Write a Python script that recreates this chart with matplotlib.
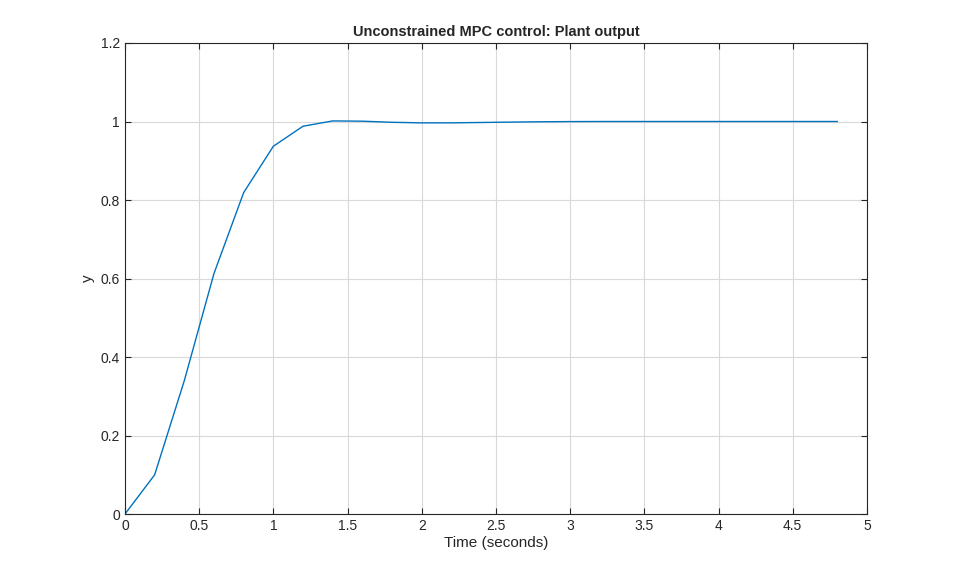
import matplotlib
matplotlib.use("Agg")
import matplotlib.pyplot as plt
import numpy as np

# plant output, sampled every 0.2 s
t = [0.0, 0.2, 0.4, 0.6, 0.8, 1.0, 1.2, 1.4, 1.6, 1.8, 2.0, 2.2, 2.4, 2.6,
     2.8, 3.0, 3.2, 3.4, 3.6, 3.8, 4.0, 4.2, 4.4, 4.6, 4.8]
y = [0.0, 0.100, 0.340, 0.613, 0.819, 0.937, 0.988, 1.0015, 1.0008, 0.998,
     0.9965, 0.9966, 0.9975, 0.9985, 0.9993, 0.9998, 1.0, 1.0, 1.0, 1.0,
     1.0, 1.0, 1.0, 1.0, 1.0]

xticks = [0, 0.5, 1, 1.5, 2, 2.5, 3, 3.5, 4, 4.5, 5]
yticks = [0, 0.2, 0.4, 0.6, 0.8, 1, 1.2]

plt.rcParams['font.family'] = ['Liberation Sans', 'DejaVu Sans']

fig = plt.figure(figsize=(9.59, 5.77), dpi=100)
ax = fig.add_axes([0.1303, 0.109, 0.7737, 0.8165])
ax.plot(t, y, color='#0072BD', linewidth=1.0)

ax.set_xlim(0, 5)
ax.set_ylim(0, 1.2)
ax.set_xticks(xticks)
ax.set_xticklabels([f"{v:g}" for v in xticks])
ax.set_yticks(yticks)
ax.set_yticklabels([f"{v:g}" for v in yticks])
ax.grid(True, color='#d9d9d9', linewidth=0.8)
ax.set_axisbelow(True)
ax.tick_params(direction='in', length=4, width=0.8, labelsize=10,
               top=True, right=True, labeltop=False, labelright=False,
               colors='#262626')
for s in ax.spines.values():
    s.set_color('#262626')
    s.set_linewidth(0.8)

ax.set_xlabel("Time (seconds)", fontsize=11, color='#262626', labelpad=2)
ax.set_ylabel("y", fontsize=11, color='#262626', labelpad=4)
ax.set_title("Unconstrained MPC control: Plant output", fontsize=10.5,
             fontweight='bold', color='#262626', pad=5)

plt.savefig("out.png", dpi=100)
